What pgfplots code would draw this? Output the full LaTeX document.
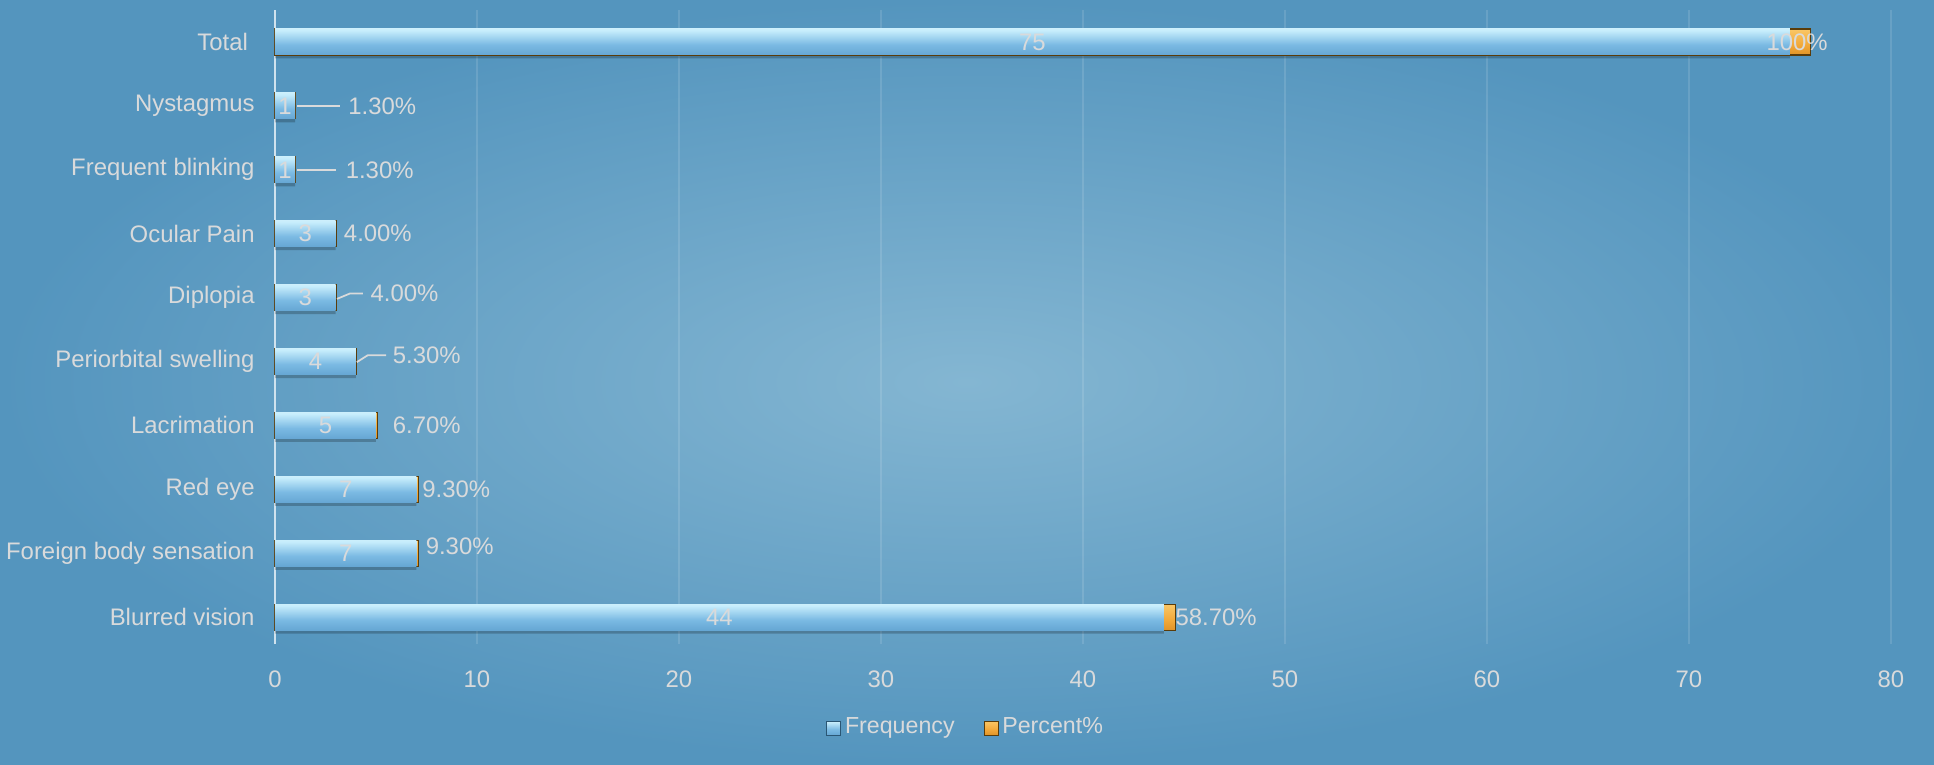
\documentclass[border=0pt]{standalone}
\usepackage{fontspec}
\setmainfont{Liberation Sans}
\usepackage{pgfplots}
\pgfplotsset{compat=1.18}
\definecolor{txt}{HTML}{D9DADB}
\definecolor{bgin}{HTML}{84B6D2}
\definecolor{bgout}{HTML}{5495BE}
\definecolor{axisline}{HTML}{CFE2EE}
\definecolor{bA}{HTML}{3C7BA6}
\definecolor{bB}{HTML}{5698C8}
\definecolor{bC}{HTML}{7BBAE3}
\definecolor{bD}{HTML}{C6EDFC}
\definecolor{bE}{HTML}{F2FDFF}
\definecolor{oA}{HTML}{C97A12}
\definecolor{oB}{HTML}{F2A93A}
\definecolor{oC}{HTML}{FFE08C}
\definecolor{oline}{HTML}{5A3C0A}
\pgfdeclareverticalshading{bluebar}{100bp}{color(0bp)=(bA); color(10bp)=(bB); color(45bp)=(bC); color(72bp)=(bD); color(100bp)=(bE)}
\pgfdeclareverticalshading{orangebar}{100bp}{color(0bp)=(oA); color(45bp)=(oB); color(100bp)=(oC)}
\pgfplotsset{
  fbar/.style={xbar, bar width=2.6mm, bar shift=0pt, draw=none, shade, shading=bluebar, forget plot},
  pbar/.style={xbar, bar width=2.6mm, bar shift=0pt, draw=oline, line width=0.3pt, shade, shading=orangebar, forget plot},
}
\begin{document}
\begin{tikzpicture}
\shade[inner color=bgin, outer color=bgout] (0,0) rectangle (19.34cm,7.64cm);
\path[use as bounding box] (0,0) rectangle (19.34cm,7.64cm);
\begin{axis}[
  at={(2.75cm,1.20cm)}, anchor=south west,
  width=16.16cm, height=6.34cm, scale only axis,
  xmin=0, xmax=80, ymin=-0.42, ymax=9.5,
  xtick={0,10,...,80},
  ytick={0,...,9},
  yticklabels={Blurred vision, Foreign body sensation, Red eye, Lacrimation, Periorbital swelling, Diplopia, Ocular Pain, Frequent blinking, Nystagmus, Total\kern1.9pt},
  axis lines*=left,
  x axis line style={draw=none},
  y axis line style={draw=axisline, line width=0.7pt},
  major tick length=0pt,
  xmajorgrids,
  grid style={white, opacity=0.12, line width=0.5pt},
  /pgf/number format/assume math mode=true,
  tick label style={font=\fontsize{6.8}{8}\selectfont, text=txt},
  xticklabel style={yshift=-1.4mm},
  yticklabel style={xshift=-0.8mm, font=\fontsize{6.8}{8}\selectfont},
  clip=false,
  legend style={at={(0.428,-0.1325)}, anchor=center, draw=none, fill=none,
    legend columns=2, font=\fontsize{6.6}{8}\selectfont, text=txt,
    /tikz/every even column/.append style={column sep=2.5mm},
    inner sep=0pt, nodes={inner sep=0.4mm}},
]
% shadow
\addplot[xbar, bar width=2.6mm, bar shift=-0.35mm, draw=none, fill=black, fill opacity=0.22, forget plot]
  coordinates {(44,0) (7,1) (7,2) (5,3) (4,4) (3,5) (3,6) (1,7) (1,8) (75,9)};
% percent segment (drawn under, from 0 to frequency+percent)
\addplot[pbar] coordinates {(44.587,0)};
\addplot[pbar] coordinates {(7.093,1)};
\addplot[pbar] coordinates {(7.093,2)};
\addplot[pbar] coordinates {(5.067,3)};
\addplot[pbar] coordinates {(4.053,4)};
\addplot[pbar] coordinates {(3.04,5)};
\addplot[pbar] coordinates {(3.04,6)};
\addplot[pbar] coordinates {(1.013,7)};
\addplot[pbar] coordinates {(1.013,8)};
\addplot[pbar] coordinates {(76,9)};
% frequency
\addplot[fbar] coordinates {(44,0)};
\addplot[fbar] coordinates {(7,1)};
\addplot[fbar] coordinates {(7,2)};
\addplot[fbar] coordinates {(5,3)};
\addplot[fbar] coordinates {(4,4)};
\addplot[fbar] coordinates {(3,5)};
\addplot[fbar] coordinates {(3,6)};
\addplot[fbar] coordinates {(1,7)};
\addplot[fbar] coordinates {(1,8)};
\addplot[fbar] coordinates {(75,9)};
\addlegendimage{legend image code/.code={\path[draw=bA!70!black, line width=0.2pt, shade, shading=bluebar] (0mm,-0.7mm) rectangle (1.4mm,0.7mm);}}
\addlegendentry{Frequency}
\addlegendimage{legend image code/.code={\path[draw=oline, line width=0.2pt, shade, shading=orangebar] (0mm,-0.7mm) rectangle (1.4mm,0.7mm);}}
\addlegendentry{Percent\%}
% frequency labels
\addplot[draw=none, mark=none, nodes near coords, point meta=explicit symbolic,
  every node near coord/.style={anchor=center, inner sep=0pt, text=txt, font=\fontsize{6.8}{8}\selectfont}, forget plot]
  coordinates {(22,0)[44] (3.5,1)[7] (3.5,2)[7] (2.5,3)[5] (2,4)[4] (1.5,5)[3] (1.5,6)[3] (0.5,7)[1] (0.5,8)[1] (37.5,9)[75]};
% percent labels
\addplot[draw=none, mark=none, nodes near coords, point meta=explicit symbolic,
  every node near coord/.style={anchor=west, inner sep=0pt, text=txt, font=\fontsize{6.8}{8}\selectfont}, forget plot]
  coordinates {(44.55,0)[58.70\%] (7.43,1.11)[9.30\%] (7.26,2)[9.30\%] (5.8,3)[6.70\%] (5.8,4.1)[5.30\%] (4.7,5.063)[4.00\%] (3.38,6)[4.00\%] (3.47,7)[1.30\%] (3.6,8)[1.30\%]};
\addplot[draw=none, mark=none, nodes near coords, point meta=explicit symbolic,
  every node near coord/.style={anchor=center, inner sep=0pt, text=txt, font=\fontsize{6.8}{8}\selectfont}, forget plot]
  coordinates {(75.35,9)[100\%]};
% leader lines
\addplot[txt, line width=0.5pt, forget plot] coordinates {(1.1,8) (3.2,8)};
\addplot[txt, line width=0.5pt, forget plot] coordinates {(1.1,7) (3.0,7)};
\addplot[txt, line width=0.5pt, forget plot] coordinates {(3.07,4.98) (3.7,5.063) (4.35,5.063)};
\addplot[txt, line width=0.5pt, forget plot] coordinates {(4.05,3.99) (4.6,4.1) (5.5,4.1)};
\end{axis}
\end{tikzpicture}
\end{document}
